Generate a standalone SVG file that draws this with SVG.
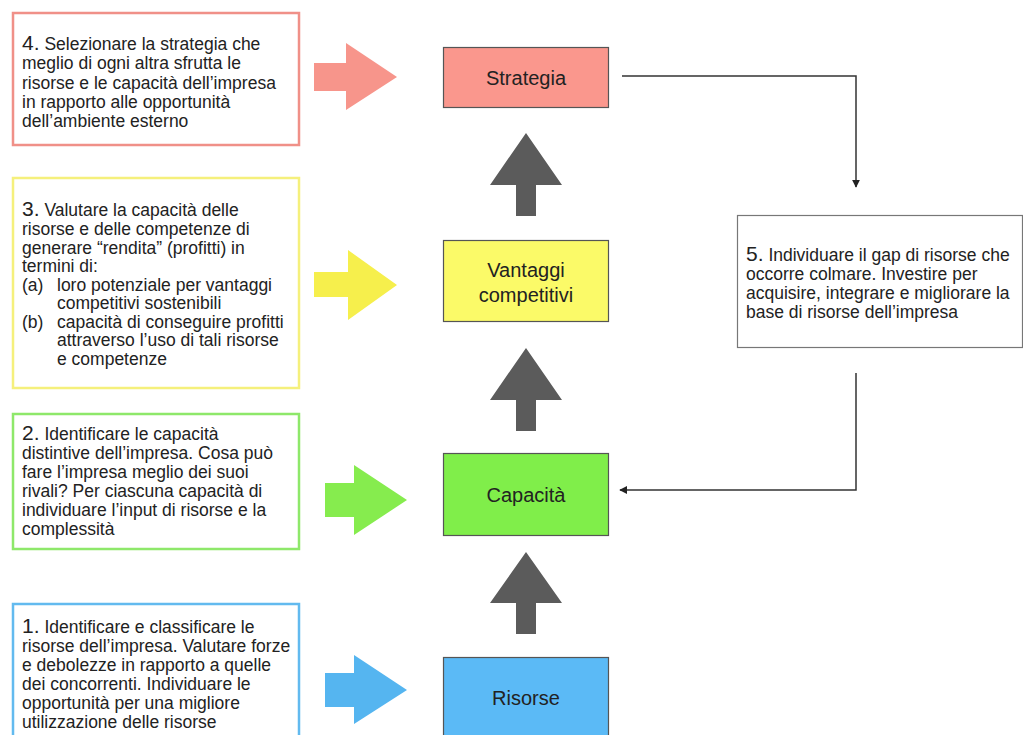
<svg xmlns="http://www.w3.org/2000/svg" width="1023" height="735" viewBox="0 0 1023 735">
  <style>
    .txt { font-family: "Liberation Sans", Arial, sans-serif; font-size: 17.5px; fill: #222; }
    .num { font-size: 21px; }
    .lbl { font-family: "Liberation Sans", Arial, sans-serif; font-size: 20px; fill: #222; text-anchor: middle; }
    .step { fill: #fff; stroke-width: 2.5; }
    .node { stroke: #555; stroke-width: 1.2; }
    .up { fill: #5b5b5b; }
    .link { fill: none; stroke: #333; stroke-width: 1.5; }
  </style>
  <defs>
    <marker id="tip" viewBox="0 0 10 10" refX="9" refY="5" markerWidth="8" markerHeight="8" orient="auto" markerUnits="userSpaceOnUse">
      <path d="M0,0 L10,5 L0,10 Z" fill="#222"/>
    </marker>
  </defs>
  <rect width="1023" height="735" fill="#fff"/>

  <!-- step 4 -->
  <g id="step4">
    <rect class="step" x="13" y="13" width="286" height="132" stroke="#f09088"/>
    <text class="txt">
      <tspan x="22" y="50"><tspan class="num">4.</tspan> Selezionare la strategia che</tspan>
      <tspan x="22" y="69">meglio di ogni altra sfrutta le</tspan>
      <tspan x="22" y="89">risorse e le capacità dell’impresa</tspan>
      <tspan x="22" y="108">in rapporto alle opportunità</tspan>
      <tspan x="22" y="127">dell’ambiente esterno</tspan>
    </text>
    <path d="M314,63 H346 V43 L397,77 L346,110 V91 H314 Z" fill="#f7958b"/>
  </g>

  <!-- step 3 -->
  <g id="step3">
    <rect class="step" x="13" y="178" width="286" height="210" stroke="#f5f07c"/>
    <text class="txt">
      <tspan x="22" y="216"><tspan class="num">3.</tspan> Valutare la capacità delle</tspan>
      <tspan x="22" y="235">risorse e delle competenze di</tspan>
      <tspan x="22" y="254">generare “rendita” (profitti) in</tspan>
      <tspan x="22" y="272">termini di:</tspan>
      <tspan x="22" y="291">(a)</tspan><tspan x="57" y="291">loro potenziale per vantaggi</tspan>
      <tspan x="57" y="309">competitivi sostenibili</tspan>
      <tspan x="22" y="328">(b)</tspan><tspan x="57" y="328">capacità di conseguire profitti</tspan>
      <tspan x="57" y="346">attraverso l’uso di tali risorse</tspan>
      <tspan x="57" y="365">e competenze</tspan>
    </text>
    <path d="M314,272 H348 V250 L397,285 L348,320 V297 H314 Z" fill="#f6ef4c"/>
  </g>

  <!-- step 2 -->
  <g id="step2">
    <rect class="step" x="13" y="414" width="286" height="135" stroke="#8ee86a"/>
    <text class="txt">
      <tspan x="22" y="440"><tspan class="num">2.</tspan> Identificare le capacità</tspan>
      <tspan x="22" y="459">distintive dell’impresa. Cosa può</tspan>
      <tspan x="22" y="478">fare l’impresa meglio dei suoi</tspan>
      <tspan x="22" y="497">rivali? Per ciascuna capacità di</tspan>
      <tspan x="22" y="516">individuare l’input di risorse e la</tspan>
      <tspan x="22" y="535">complessità</tspan>
    </text>
    <path d="M325,483 H354 V465 L407,500 L354,535 V517 H325 Z" fill="#86ec4e"/>
  </g>

  <!-- step 1 -->
  <g id="step1">
    <rect class="step" x="13" y="604" width="286" height="140" stroke="#62baef"/>
    <text class="txt">
      <tspan x="22" y="633"><tspan class="num">1.</tspan> Identificare e classificare le</tspan>
      <tspan x="22" y="652">risorse dell’impresa. Valutare forze</tspan>
      <tspan x="22" y="671">e debolezze in rapporto a quelle</tspan>
      <tspan x="22" y="690">dei concorrenti. Individuare le</tspan>
      <tspan x="22" y="709">opportunità per una migliore</tspan>
      <tspan x="22" y="728">utilizzazione delle risorse</tspan>
    </text>
    <path d="M325,673 H354 V655 L407,690 L354,724 V707 H325 Z" fill="#55b5f0"/>
  </g>

  <!-- step 5 -->
  <g id="step5">
    <rect x="737.5" y="215.5" width="285" height="132" fill="#fff" stroke="#777" stroke-width="1.2"/>
    <text class="txt">
      <tspan x="746" y="261"><tspan class="num">5.</tspan> Individuare il gap di risorse che</tspan>
      <tspan x="746" y="280">occorre colmare. Investire per</tspan>
      <tspan x="746" y="299">acquisire, integrare e migliorare la</tspan>
      <tspan x="746" y="318">base di risorse dell’impresa</tspan>
    </text>
  </g>

  <!-- central chain -->
  <g id="strategia">
    <rect class="node" x="443.5" y="47.5" width="165" height="60" fill="#fa978d"/>
    <text class="lbl" x="526" y="85">Strategia</text>
  </g>
  <g id="vantaggi">
    <rect class="node" x="443.5" y="240.5" width="165" height="81" fill="#fbfa68"/>
    <text class="lbl" x="526" y="277">Vantaggi</text>
    <text class="lbl" x="526" y="302">competitivi</text>
  </g>
  <g id="capacita">
    <rect class="node" x="443.5" y="453.5" width="165" height="82" fill="#80ee4a"/>
    <text class="lbl" x="526" y="502">Capacità</text>
  </g>
  <g id="risorse">
    <rect class="node" x="443.5" y="657.5" width="165" height="90" fill="#5bbaf6"/>
    <text class="lbl" x="526" y="705">Risorse</text>
  </g>

  <!-- connectors -->
  <g id="connectors">
    <path class="up" d="M516,216 V185 H490 L526,133 L562,185 H536 V216 Z"/>
    <path class="up" d="M516,431 V400 H490 L526,348 L562,400 H536 V431 Z"/>
    <path class="up" d="M516,634 V603 H490 L526,552 L562,603 H536 V634 Z"/>
    <path class="link" d="M622,76 H856 V187" marker-end="url(#tip)"/>
    <path class="link" d="M856,373 V490 H620" marker-end="url(#tip)"/>
  </g>
</svg>
